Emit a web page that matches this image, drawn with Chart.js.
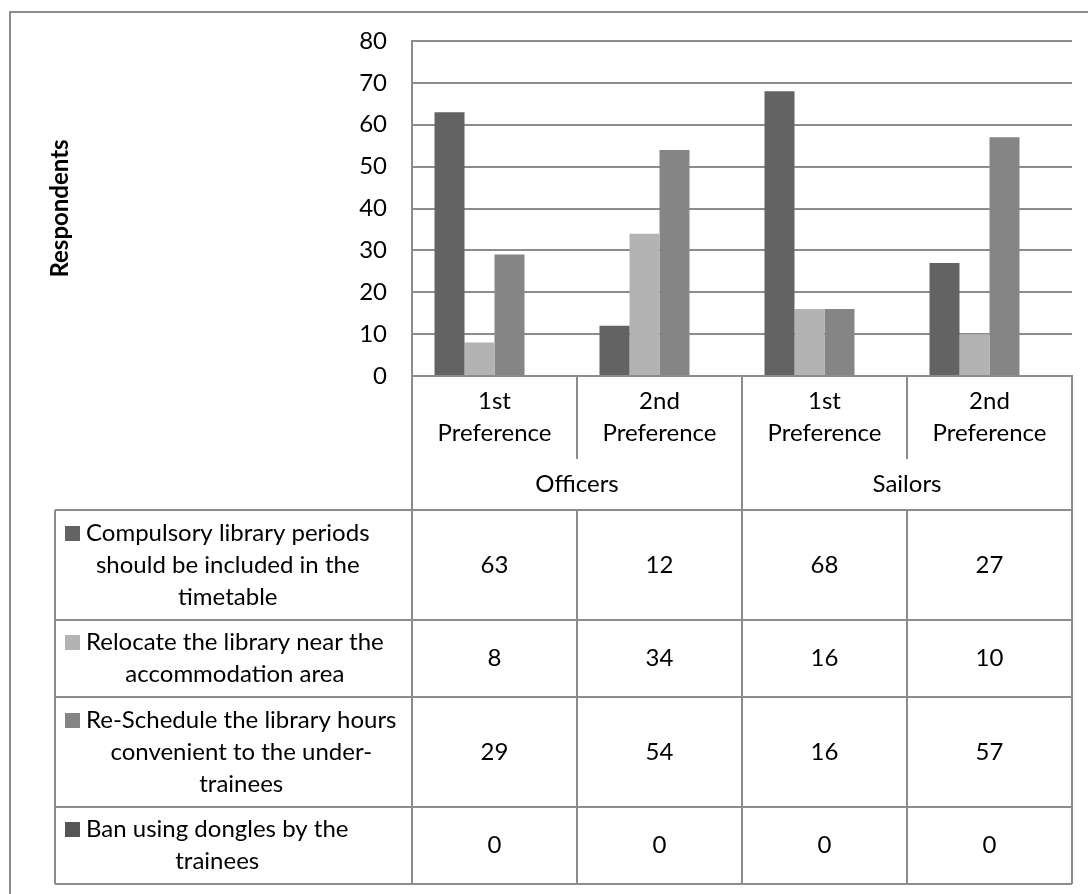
<!DOCTYPE html>
<html>
<head>
<meta charset="utf-8">
<script src="https://cdn.jsdelivr.net/npm/chart.js@4.4.1/dist/chart.umd.min.js"></script>
<style>
html,body{margin:0;padding:0;background:#ffffff;}
canvas{display:block;}
</style>
</head>
<body>
<canvas id="c" width="1088" height="894"></canvas>
<script>
// ---- data ----
const categories = [['1st','Preference'],['2nd','Preference'],['1st','Preference'],['2nd','Preference']];
const groups = ['Officers','Sailors'];
const groupSpan = 2;
const seriesLabels = [
  ['Compulsory library periods','should be included in the','timetable'],
  ['Relocate the library near the','accommodation area'],
  ['Re-Schedule the library hours','convenient to the under-','trainees'],
  ['Ban using dongles by the','trainees']
];
const compulsory = [63, 12, 68, 27];
const relocate   = [8, 34, 16, 10];
const reschedule = [29, 54, 16, 57];
const ban        = [0, 0, 0, 0];
const yMin = 0, yMax = 80, yStep = 10;
const yTitle = 'Respondents';

// ---- style ----
const seriesValues = [compulsory, relocate, reschedule, ban];
const seriesColors = ['#636363', '#b3b3b3', '#858585', '#565656'];
const LINE = '#8c8c8c';
const FONT_FAMILY = 'Lato, "Open Sans", sans-serif';
const FONT_SIZE = 24;
const LINE_H = 32;

const tablePlugin = {
  id: 'dataTable',
  afterDraw(chart) {
    const ctx = chart.ctx;
    const xs = chart.scales.x;
    const area = chart.chartArea;
    const colW = xs.getPixelForValue(1) - xs.getPixelForValue(0);
    const cols = categories.map((c, i) => [Math.round(xs.getPixelForValue(i) - colW / 2), Math.round(xs.getPixelForValue(i) + colW / 2)]);
    const tLeft = 55;
    const tRight = cols[cols.length - 1][1];
    const y0 = Math.round(area.bottom);
    const catBottom = y0 + 83;
    const grpBottom = catBottom + 51;
    const rowBottoms = [];
    let yy = grpBottom;
    seriesLabels.forEach(l => { yy += Math.round(l.length * 32.5 + 12); rowBottoms.push(yy); });
    const tBottom = rowBottoms[rowBottoms.length - 1];

    ctx.save();
    // outer frame
    ctx.strokeStyle = LINE;
    ctx.lineWidth = 2;
    ctx.beginPath();
    ctx.moveTo(10, 894); ctx.lineTo(10, 12); ctx.lineTo(1088, 12);
    ctx.stroke();

    // table lines
    ctx.beginPath();
    // left-most plot column boundary
    ctx.moveTo(cols[0][0], y0); ctx.lineTo(cols[0][0], tBottom);
    for (let i = 1; i < cols.length; i++) {
      const bx = cols[i][0];
      if (i % groupSpan === 0) {
        ctx.moveTo(bx, y0); ctx.lineTo(bx, tBottom);
      } else {
        ctx.moveTo(bx, y0); ctx.lineTo(bx, catBottom);
        ctx.moveTo(bx, grpBottom); ctx.lineTo(bx, tBottom);
      }
    }
    ctx.moveTo(tRight, y0); ctx.lineTo(tRight, tBottom);
    ctx.moveTo(tLeft, grpBottom); ctx.lineTo(tLeft, tBottom);
    ctx.moveTo(tLeft, grpBottom); ctx.lineTo(tRight, grpBottom);
    rowBottoms.forEach(b => { ctx.moveTo(tLeft, b); ctx.lineTo(tRight, b); });
    ctx.stroke();

    // texts
    ctx.fillStyle = '#000';
    ctx.font = FONT_SIZE + 'px ' + FONT_FAMILY;
    ctx.textBaseline = 'middle';
    ctx.textAlign = 'center';
    // category labels
    categories.forEach((lines, i) => {
      const cx = (cols[i][0] + cols[i][1]) / 2;
      const cy = (y0 + catBottom) / 2;
      lines.forEach((t, k) => ctx.fillText(t, cx, cy + (k - (lines.length - 1) / 2) * LINE_H));
    });
    // group labels
    groups.forEach((g, gi) => {
      const a = cols[gi * groupSpan][0];
      const b = cols[gi * groupSpan + groupSpan - 1][1];
      ctx.fillText(g, (a + b) / 2, (catBottom + grpBottom) / 2);
    });
    // series rows
    let top = grpBottom;
    seriesLabels.forEach((lines, s) => {
      const bottom = rowBottoms[s];
      const cy = (top + bottom) / 2;
      // legend key + text block
      const blockLeft = 86;
      const blockW = Math.max(...lines.map(t => ctx.measureText(t).width));
      lines.forEach((t, k) => {
        const ly = cy + (k - (lines.length - 1) / 2) * LINE_H;
        ctx.fillText(t, blockLeft + blockW / 2, ly);
        if (k === 0) {
          ctx.fillStyle = seriesColors[s];
          ctx.fillRect(65, Math.round(ly - 7.5), 15, 15);
          ctx.fillStyle = '#000';
        }
      });
      // values
      seriesValues[s].forEach((v, i) => {
        ctx.fillText(String(v), (cols[i][0] + cols[i][1]) / 2, cy);
      });
      top = bottom;
    });
    ctx.restore();
  }
};

new Chart(document.getElementById('c'), {
  type: 'bar',
  data: {
    labels: categories,
    datasets: seriesLabels.map((l, s) => ({
      label: l.join(' '),
      data: seriesValues[s],
      backgroundColor: seriesColors[s],
      borderWidth: 0,
      barPercentage: 1.0,
      categoryPercentage: 4 / 5.5
    }))
  },
  options: {
    responsive: false,
    animation: false,
    devicePixelRatio: 1,
    layout: { padding: { left: 0, right: 16, top: 41, bottom: 510 } },
    plugins: { legend: { display: false }, tooltip: { enabled: false } },
    scales: {
      x: {
        ticks: { display: false },
        grid: { display: false },
        border: { display: true, color: LINE, width: 2 }
      },
      y: {
        min: yMin, max: yMax,
        ticks: { stepSize: yStep, color: '#000', padding: 25, font: { family: FONT_FAMILY, size: FONT_SIZE } },
        grid: { color: LINE, lineWidth: 2, drawTicks: false },
        border: { display: true, color: LINE, width: 2 },
        title: { display: true, text: yTitle, color: '#000', font: { family: FONT_FAMILY, size: FONT_SIZE, weight: 'bold' }, padding: { top: 46, bottom: 0 } },
        afterFit(scale) { scale.width = 412; }
      }
    }
  },
  plugins: [tablePlugin]
});
</script>
</body>
</html>
